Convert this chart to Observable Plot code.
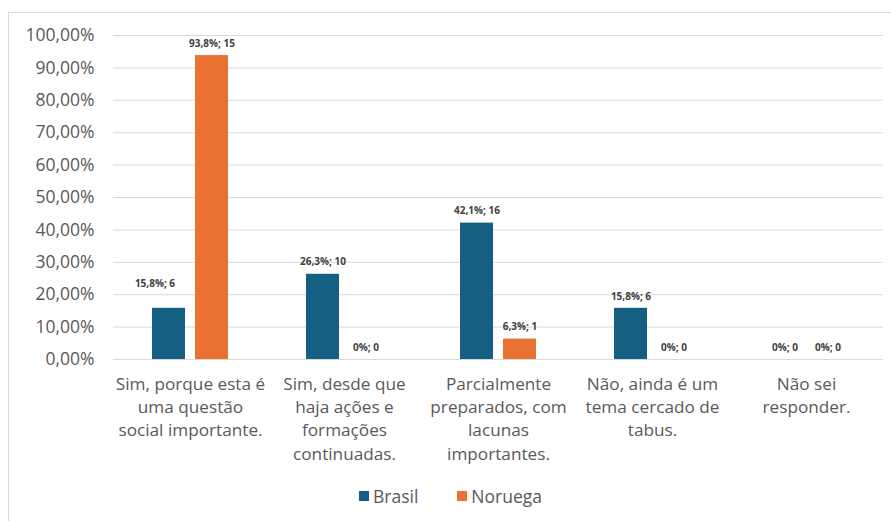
<!DOCTYPE html>
<html><head><meta charset="utf-8">
<script src="https://cdn.jsdelivr.net/npm/d3@7"></script>
<script src="https://cdn.jsdelivr.net/npm/@observablehq/plot@0.6"></script>
<style>
body{margin:0;background:#fff;font-family:"Open Sans",sans-serif;overflow:hidden;}
#frame{position:absolute;left:8px;top:12px;width:900px;height:520px;border:1px solid #d9d9d9;box-sizing:border-box;}
#chart{position:absolute;left:0;top:0;}
#legend{position:absolute;left:359px;top:484px;}
#legend > div{font-size:17.5px !important;color:#595959 !important;font-family:"Open Sans",sans-serif !important;min-height:0 !important;margin:0 !important;}
#legend span{margin-right:39px !important;}
#legend svg{margin-right:4px !important;}
</style></head><body>
<div id="frame"></div><div id="chart"></div><div id="legend"></div>
<script>
const categories = [
  "Sim, porque esta é\numa questão\nsocial importante.",
  "Sim, desde que\nhaja ações e\nformações\ncontinuadas.",
  "Parcialmente\npreparados, com\nlacunas\nimportantes.",
  "Não, ainda é um\ntema cercado de\ntabus.",
  "Não sei\nresponder."
];
const series = ["Brasil", "Noruega"];
const brasilPct = [15.8, 26.3, 42.1, 15.8, 0];
const brasilN = [6, 10, 16, 6, 0];
const noruegaPct = [93.8, 0, 6.3, 0, 0];
const noruegaN = [15, 0, 1, 0, 0];
const colors = ["#156082", "#E97132"];
const yTicks = [0, 10, 20, 30, 40, 50, 60, 70, 80, 90, 100];

const data = categories.flatMap((c, i) => [
  {category: c, series: "Brasil", value: brasilPct[i], n: brasilN[i], idx: i},
  {category: c, series: "Noruega", value: noruegaPct[i], n: noruegaN[i], idx: i}
]);
const fmtPct = v => v === 0 ? "0%" : v.toFixed(1).replace(".", ",") + "%";
const labelText = d => fmtPct(d.value) + "; " + d.n;
const raised = d => d.idx === 0 && d.series === "Brasil";
const FONT = "'Open Sans', sans-serif";

const chart = Plot.plot({
  width: 891, height: 470,
  marginTop: 35, marginBottom: 111, marginLeft: 112, marginRight: 8,
  style: {fontFamily: FONT, background: "transparent"},
  fx: {domain: categories, padding: 0, label: null, axis: null},
  x: {domain: series, paddingInner: 0.227, paddingOuter: 0.864, axis: null},
  y: {domain: [0, 100], axis: null},
  color: {domain: series, range: colors},
  marks: [
    Plot.gridY(yTicks, {stroke: "#d9d9d9", strokeOpacity: 1, strokeWidth: 1}),
    Plot.ruleY([0], {stroke: "#d9d9d9", strokeWidth: 1}),
    Plot.axisY(yTicks, {tickSize: 0, tickPadding: 19, fontSize: 17.5, fill: "#595959",
      tickFormat: d => d.toFixed(2).replace(".", ",") + "%", label: null}),
    Plot.axisFx({anchor: "bottom", tickSize: 0, tickPadding: 14, fontSize: 17.2, fill: "#595959",
      lineHeight: 1.35, label: null}),
    Plot.barY(data, {fx: "category", x: "series", y: "value", fill: "series"}),
    Plot.text(data.filter(d => !raised(d)), {fx: "category", x: "series", y: "value", text: labelText,
      dy: -12, fontWeight: "bold", fontSize: 10, fill: "#404040"}),
    Plot.text(data.filter(raised), {fx: "category", x: "series", y: "value", text: labelText,
      dx: -14, dy: -25, fontWeight: "bold", fontSize: 10, fill: "#404040"})
  ]
});
document.getElementById("chart").append(chart);

const legend = Plot.legend({
  color: {type: "ordinal", domain: series, range: colors},
  swatchSize: 10,
  style: {fontSize: "17.5px", color: "#595959", fontFamily: FONT}
});
document.getElementById("legend").append(legend);
</script>
</body></html>
